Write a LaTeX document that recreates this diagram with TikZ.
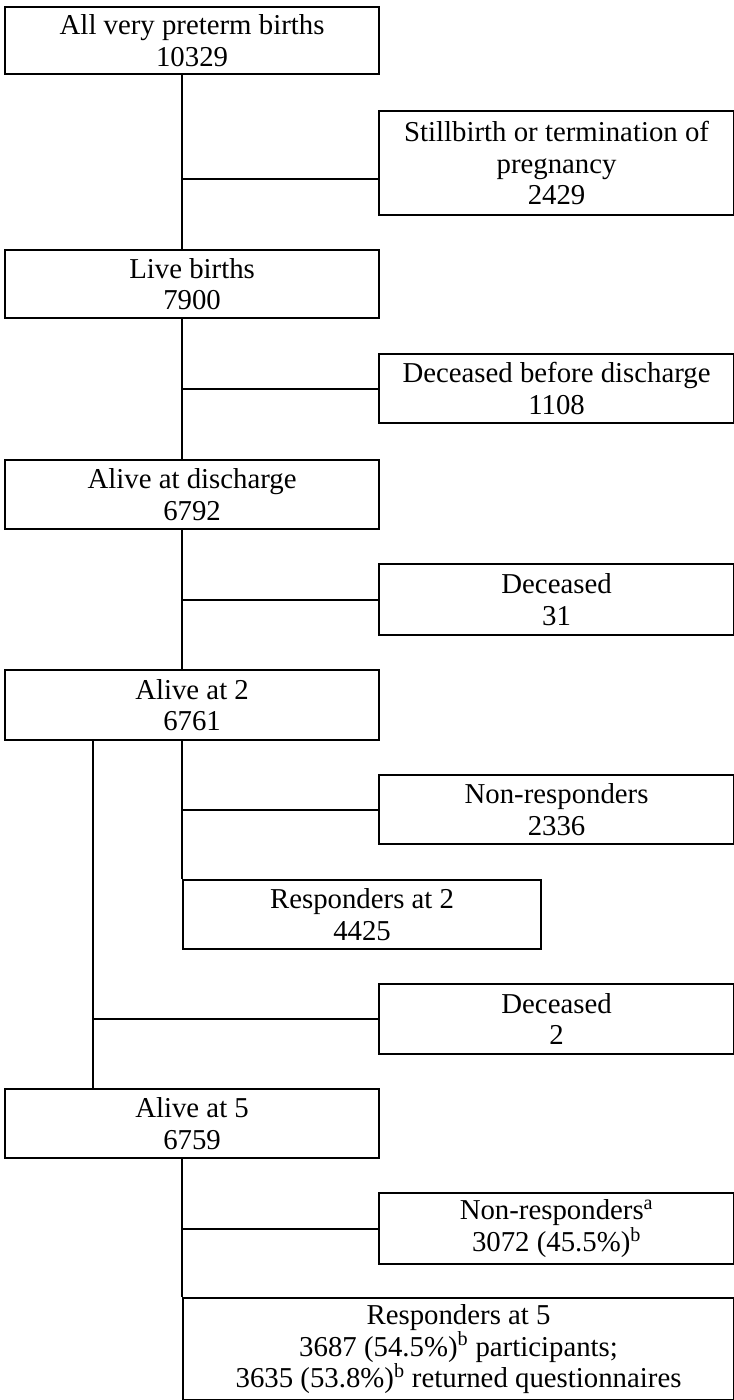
\documentclass[tikz,border=0pt]{standalone}
\usepackage{fontspec}
\setmainfont{Liberation Serif}
\usepackage{tikz}

\begin{document}
\begin{tikzpicture}[x=0.75pt,y=-0.75pt,
  box/.style={draw, line width=1.6pt, anchor=north west, align=center, inner sep=0pt,
    minimum width=280.5pt, minimum height=52pt, font=\fontsize{21.6pt}{23.8pt}\selectfont},
  sidebox/.style={box, minimum width=266.25pt},
  link/.style={line width=1.6pt}]
\useasboundingbox (0,0) rectangle (734,1400);
\coordinate (spine) at (182,0);
\coordinate (spineb) at (93,0);
\node[box, minimum height=50.25pt] (allvp) at (4,6) {All very preterm births\\10329};
\node[sidebox, minimum height=78pt] (still) at (378,110) {Stillbirth or termination of\\pregnancy\\2429};
\node[box, minimum height=51pt] (live) at (4,249) {Live births\\7900};
\node[sidebox] (decdis) at (378,353) {Deceased before discharge\\1108};
\node[box] (alivedis) at (4,459) {Alive at discharge\\6792};
\node[sidebox, minimum height=53.25pt] (dec31) at (378,563) {Deceased\\31};
\node[box, minimum height=52.5pt] (alive2) at (4,669) {Alive at 2\\6761};
\node[sidebox] (nonresp2) at (378,774) {Non-responders\\2336};
\node[box, minimum width=268.5pt] (resp2) at (182,879) {Responders at 2\\4425};
\node[sidebox, minimum height=52.5pt] (dec2) at (378,983) {Deceased\\2};
\node[box] (alive5) at (4,1088) {Alive at 5\\6759};
\node[sidebox, minimum height=53.25pt] (nonresp5) at (378,1192) {Non-responders\textsuperscript{a}\\3072 (45.5\%)\textsuperscript{b}};
\node[box, minimum width=413.25pt, minimum height=76.5pt] (resp5) at (182,1297) {Responders at 5\\3687 (54.5\%)\textsuperscript{b} participants;\\3635 (53.8\%)\textsuperscript{b} returned questionnaires};
\draw[link] (allvp.south -| spine) -- (live.north -| spine);
\draw[link] ([yshift=-12pt]still.west -| spine) -- ([yshift=-12pt]still.west);
\draw[link] (live.south -| spine) -- (alivedis.north -| spine);
\draw[link] (decdis.west -| spine) -- (decdis.west);
\draw[link] (alivedis.south -| spine) -- (alive2.north -| spine);
\draw[link] (dec31.west -| spine) -- (dec31.west);
\draw[link] (alive2.south -| resp2.west) -- (resp2.north west);
\draw[link] (nonresp2.west -| resp2.west) -- (nonresp2.west);
\draw[link] (alive2.south -| spineb) -- (alive5.north -| spineb);
\draw[link] (dec2.west -| spineb) -- (dec2.west);
\draw[link] (alive5.south -| resp5.west) -- (resp5.north west);
\draw[link] (nonresp5.west -| resp5.west) -- (nonresp5.west);
\end{tikzpicture}
\end{document}
